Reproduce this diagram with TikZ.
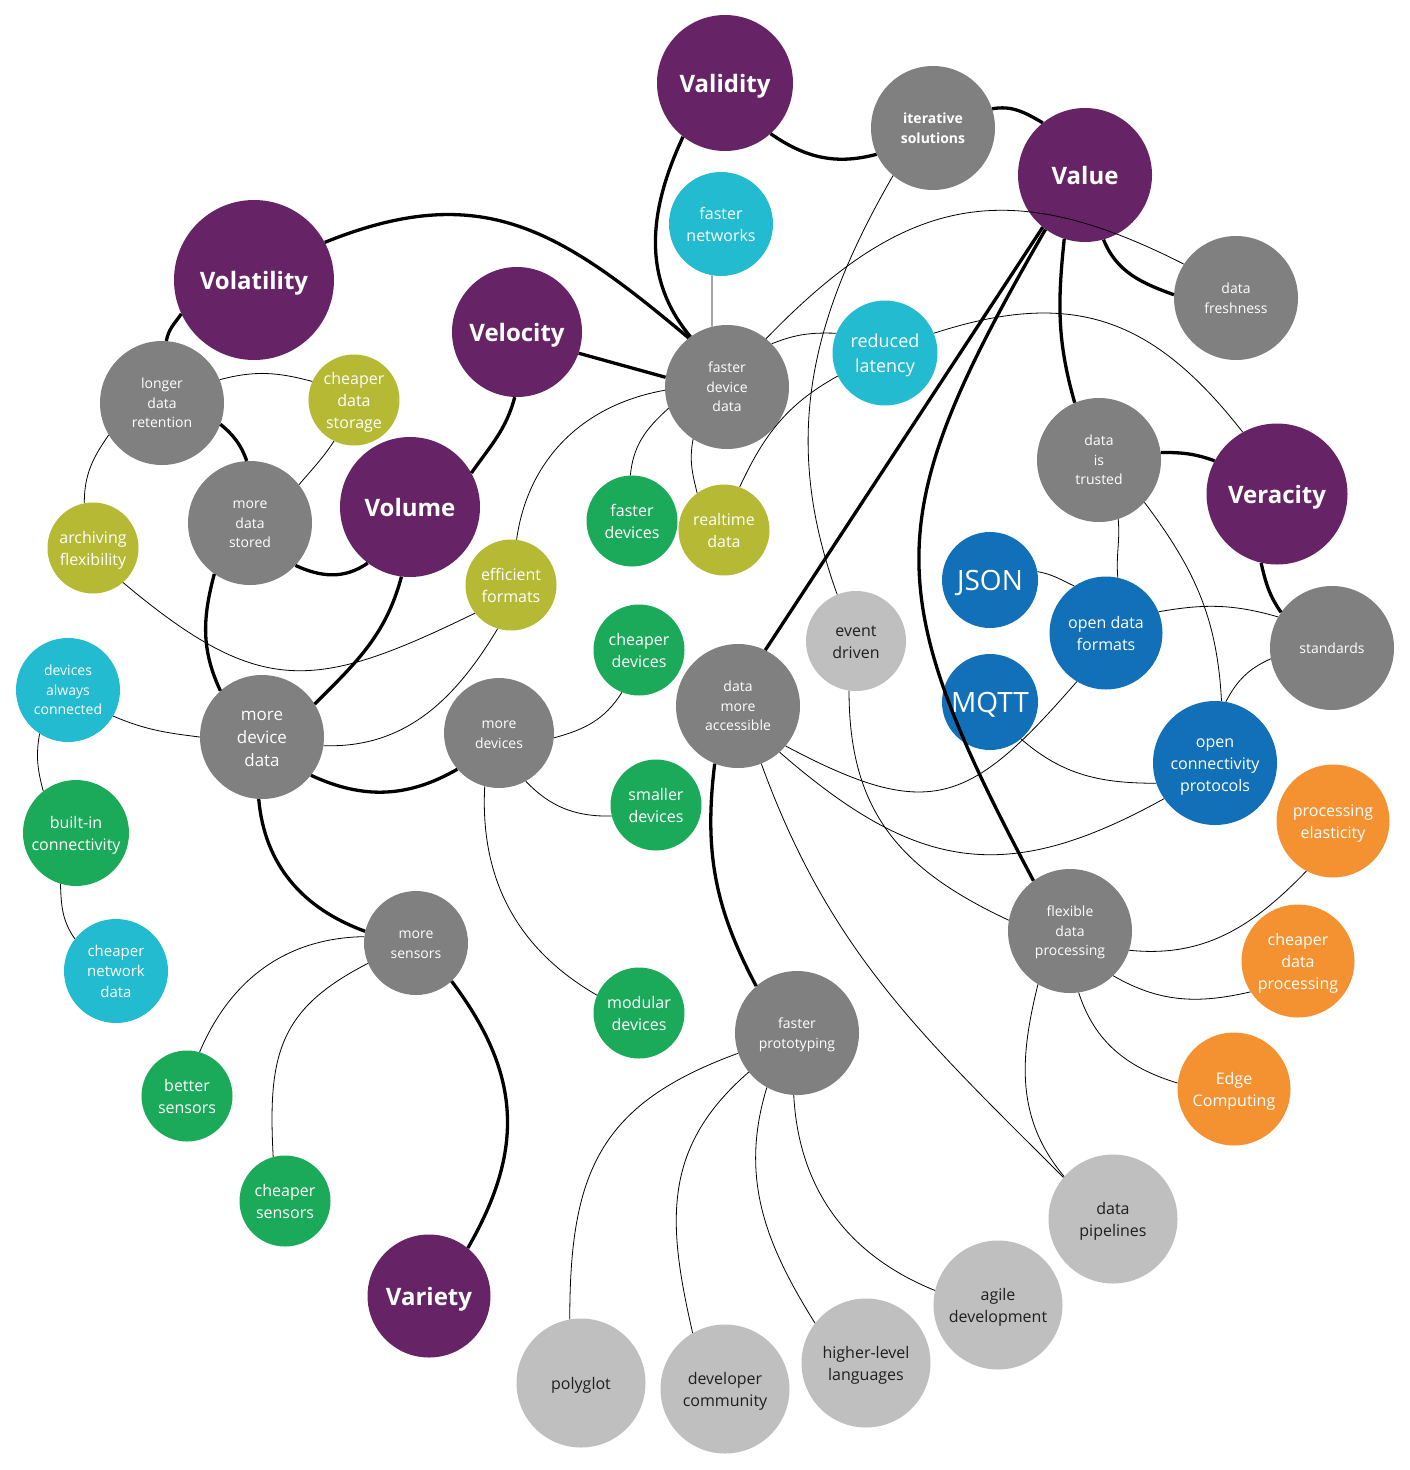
\documentclass[tikz,border=0pt]{standalone}
\usepackage{fontspec}
\setmainfont{Open Sans}
\definecolor{cPur}{RGB}{102,36,102}
\definecolor{cGray}{RGB}{128,128,128}
\definecolor{cLG}{RGB}{191,191,191}
\definecolor{cCyan}{RGB}{34,187,208}
\definecolor{cOlive}{RGB}{181,185,52}
\definecolor{cGreen}{RGB}{27,170,89}
\definecolor{cBlue}{RGB}{18,112,184}
\definecolor{cOrange}{RGB}{244,146,50}
\newcommand{\bub}[7]{%
  \node[bubl,fill=#5,minimum size=#4pt] (#1) at (#2,-#3) {};
  \node[#6] (#1-t) at (#1.center) {\vphantom{d}#7};}
\begin{document}
\begin{tikzpicture}[x=1pt,y=1pt,
  bubl/.style={circle,draw=none,inner sep=0pt},
  lbl/.style={align=center,inner sep=0pt,text=white,text depth=0pt},
  tP/.style={lbl,font=\fontsize{24}{30}\selectfont\bfseries},
  tS/.style={lbl,font=\fontsize{14}{19.5}\selectfont},
  tSB/.style={lbl,font=\fontsize{14}{19.5}\selectfont\bfseries},
  tM/.style={lbl,font=\fontsize{17}{23}\selectfont},
  tL/.style={lbl,font=\fontsize{16}{22}\selectfont},
  tLL/.style={lbl,font=\fontsize{18}{25}\selectfont},
  tN/.style={lbl,font=\fontsize{15}{20.5}\selectfont},
  tD/.style={lbl,text=black!88,font=\fontsize{16}{22}\selectfont},
  tJ/.style={lbl,font=\fontsize{28}{34}\selectfont},
  strong/.style={draw=black,line width=3.3pt},
  weak/.style={draw=black,line width=0.8pt}]
\fill[white] (0,0) rectangle (1409,-1470);
\useasboundingbox (0,0) rectangle (1409,-1470);
% purple
\bub{validity}{725}{83}{136}{cPur}{tP}{Validity}
\bub{value}{1085}{175}{134}{cPur}{tP}{Value}
\bub{volatility}{254}{280}{160}{cPur}{tP}{Volatility}
\bub{velocity}{517}{332}{130}{cPur}{tP}{Velocity}
\bub{volume}{410}{507}{140}{cPur}{tP}{Volume}
\bub{veracity}{1277}{494}{141}{cPur}{tP}{Veracity}
\bub{variety}{429}{1296}{123}{cPur}{tP}{Variety}
% gray
\bub{iter}{933}{128}{124}{cGray}{tSB}{iterative\\solutions}
\bub{fdd}{727}{387}{124}{cGray}{tS}{faster\\device\\data}
\bub{longer}{162}{403}{124}{cGray}{tS}{longer\\data\\retention}
\bub{mds}{250}{523}{124}{cGray}{tS}{more\\data\\stored}
\bub{fresh}{1236}{298}{124}{cGray}{tS}{data\\freshness}
\bub{trusted}{1099}{460}{124}{cGray}{tS}{data\\is\\trusted}
\bub{standards}{1332}{648}{124}{cGray}{tS}{standards}
\bub{mdd}{262}{737}{124}{cGray}{tM}{more\\device\\data}
\bub{mdev}{499}{733}{110}{cGray}{tS}{more\\devices}
\bub{dma}{738}{706}{124}{cGray}{tS}{data\\more\\accessible}
\bub{flex}{1070}{931}{124}{cGray}{tS}{flexible\\data\\processing}
\bub{msens}{416}{943}{104}{cGray}{tS}{more\\sensors}
\bub{fproto}{797}{1033}{124}{cGray}{tS}{faster\\prototyping}
% light gray
\bub{event}{856}{641}{100}{cLG}{tD}{event\\driven}
\bub{pipelines}{1113}{1219}{129}{cLG}{tD}{data\\pipelines}
\bub{agile}{998}{1305}{129}{cLG}{tD}{agile\\development}
\bub{higher}{866}{1363}{129}{cLG}{tD}{higher-level\\languages}
\bub{devcom}{725}{1389}{129}{cLG}{tD}{developer\\community}
\bub{polyglot}{581}{1383}{129}{cLG}{tD}{polyglot}
% cyan
\bub{fnet}{721}{224}{104}{cCyan}{tL}{faster\\networks}
\bub{redlat}{885}{353}{105}{cCyan}{tLL}{reduced\\latency}
\bub{always}{68}{690}{104}{cCyan}{tS}{devices\\always\\connected}
\bub{cnet}{116}{971}{104}{cCyan}{tN}{cheaper\\network\\data}
% olive
\bub{cstorage}{354}{400}{91}{cOlive}{tL}{cheaper\\data\\storage}
\bub{archiving}{93}{548}{91}{cOlive}{tL}{archiving\\flexibility}
\bub{efficient}{511}{585}{91}{cOlive}{tL}{efficient\\formats}
\bub{realtime}{724}{530}{91}{cOlive}{tL}{realtime\\data}
% green
\bub{fdev}{632}{521}{91}{cGreen}{tL}{faster\\devices}
\bub{cdev}{639}{650}{91}{cGreen}{tL}{cheaper\\devices}
\bub{sdev}{656}{805}{91}{cGreen}{tL}{smaller\\devices}
\bub{builtin}{76}{833}{106}{cGreen}{tL}{built-in\\connectivity}
\bub{modular}{639}{1013}{91}{cGreen}{tL}{modular\\devices}
\bub{bsens}{187}{1096}{91}{cGreen}{tL}{better\\sensors}
\bub{csens}{285}{1201}{91}{cGreen}{tL}{cheaper\\sensors}
% blue
\bub{json}{990}{580}{96}{cBlue}{tJ}{JSON}
\bub{mqtt}{990}{702}{96}{cBlue}{tJ}{MQTT}
\bub{odf}{1106}{633}{113}{cBlue}{tL}{open data\\formats}
\bub{ocp}{1215}{763}{124}{cBlue}{tL}{open\\connectivity\\protocols}
% orange
\bub{pelast}{1333}{821}{113}{cOrange}{tL}{processing\\elasticity}
\bub{cdp}{1298}{961}{113}{cOrange}{tL}{cheaper\\data\\processing}
\bub{edge}{1234}{1089}{113}{cOrange}{tL}{Edge\\Computing}
% thick connectors
\draw[strong] (validity.232) to[out=245,in=130] (fdd.126);
\draw[strong] (validity.312) to[out=-35,in=195] (iter.205);
\draw[strong] (iter.18) to[out=10,in=150] (value.129);
\draw[strong] (volatility.28) to[out=22,in=140,looseness=1.15] (fdd.128);
\draw[strong] (velocity.341) -- (fdd.171);
\draw[strong] (volatility.205) to[out=235,in=80] (longer.86);
\draw[strong] (longer.340) to[out=-40,in=110] (mds.93);
\draw[strong] (mds.317) to[out=-25,in=215] (volume.233);
\draw[strong] (velocity.268) to[out=255,in=55] (volume.29);
\draw[strong] (volume.263) to[out=255,in=45] (mdd.32);
\draw[strong] (mds.235) to[out=255,in=115] (mdd.132);
\draw[strong] (mdd.322) to[out=-25,in=210] (mdev.221);
\draw[strong] (mdd.267) to[out=275,in=160] (msens.167);
\draw[strong] (msens.313) to[out=-53,in=60,looseness=1.1] (variety.51);
\draw[strong] (value.231) -- (dma.64);
\draw[strong] (value.234) to[out=240,in=118,looseness=1.3] (flex.126);
\draw[strong] (value.252) to[out=264,in=106] (trusted.113);
\draw[strong] (value.286) to[out=292,in=160] (fresh.177);
\draw[strong] (trusted.7) to[out=0,in=160] (veracity.152);
\draw[strong] (veracity.257) to[out=283,in=125] (standards.145);
\draw[strong] (dma.248) to[out=263,in=118] (fproto.131);
% thin connectors
\draw[weak] (fnet.260) -- (fdd.104);
\draw[weak] (fdd.51) to[out=46,in=153,looseness=1.2] (fresh.147);
\draw[weak] (fdd.44) to[out=22,in=178] (redlat.158);
\draw[weak] (fdd.183) to[out=190,in=82] (efficient.83);
\draw[weak] (fdd.200) to[out=222,in=85] (fdev.92);
\draw[weak] (fdd.237) to[out=259,in=104] (realtime.126);
\draw[weak] (redlat.206) to[out=209,in=65] (realtime.70);
\draw[weak] (redlat.22) to[out=18,in=128,looseness=1.15] (veracity.119);
\draw[weak] (iter.230) to[out=240,in=110] (event.112);
\draw[weak] (trusted.288) to[out=-85,in=95] (odf.78);
\draw[weak] (trusted.317) to[out=-53,in=93] (ocp.84);
\draw[weak] (json.10) to[out=-10,in=155] (odf.124);
\draw[weak] (odf.22) to[out=10,in=164] (standards.150);
\draw[weak] (dma.320) to[out=-28,in=229,looseness=1.4] (odf.239);
\draw[weak] (mqtt.310) to[out=-41,in=180] (ocp.199);
\draw[weak] (standards.190) to[out=204,in=62] (ocp.80);
\draw[weak] (dma.312) to[out=-41,in=209,looseness=1.2] (ocp.215);
\draw[weak] (dma.292) to[out=-70,in=135] (pipelines.140);
\draw[weak] (event.262) to[out=270,in=155,looseness=1.1] (flex.170);
\draw[weak] (flex.342) to[out=-6,in=226] (pelast.242);
\draw[weak] (flex.314) to[out=-30,in=193] (cdp.213);
\draw[weak] (flex.278) to[out=-72,in=163] (edge.174);
\draw[weak] (flex.239) to[out=256,in=130] (pipelines.139);
\draw[weak] (fproto.199) to[out=200,in=90,looseness=1.2] (polyglot.100);
\draw[weak] (fproto.219) to[out=221,in=103,looseness=1.1] (devcom.120);
\draw[weak] (fproto.241) to[out=253,in=122] (higher.142);
\draw[weak] (fproto.267) to[out=273,in=158] (agile.167);
\draw[weak] (mdev.355) to[out=15,in=238] (cdev.248);
\draw[weak] (mdev.299) to[out=-46,in=181] (sdev.194);
\draw[weak] (mdev.255) to[out=267,in=150] (modular.157);
\draw[weak] (mdd.180) to[out=173,in=-23] (always.330);
\draw[weak] (mdd.352) to[out=-2,in=239] (efficient.253);
\draw[weak] (archiving.311) to[out=-40,in=206,looseness=1.3] (efficient.218);
\draw[weak] (longer.22) to[out=15,in=165] (cstorage.156);
\draw[weak] (mds.38) to[out=50,in=237] (cstorage.244);
\draw[weak] (longer.211) to[out=235,in=90] (archiving.101);
\draw[weak] (always.237) to[out=260,in=105] (builtin.128);
\draw[weak] (builtin.253) to[out=272,in=125] (cnet.142);
\draw[weak] (msens.173) to[out=181,in=67] (bsens.74);
\draw[weak] (msens.203) to[out=207,in=93,looseness=1.2] (csens.105);
\end{tikzpicture}
\end{document}
